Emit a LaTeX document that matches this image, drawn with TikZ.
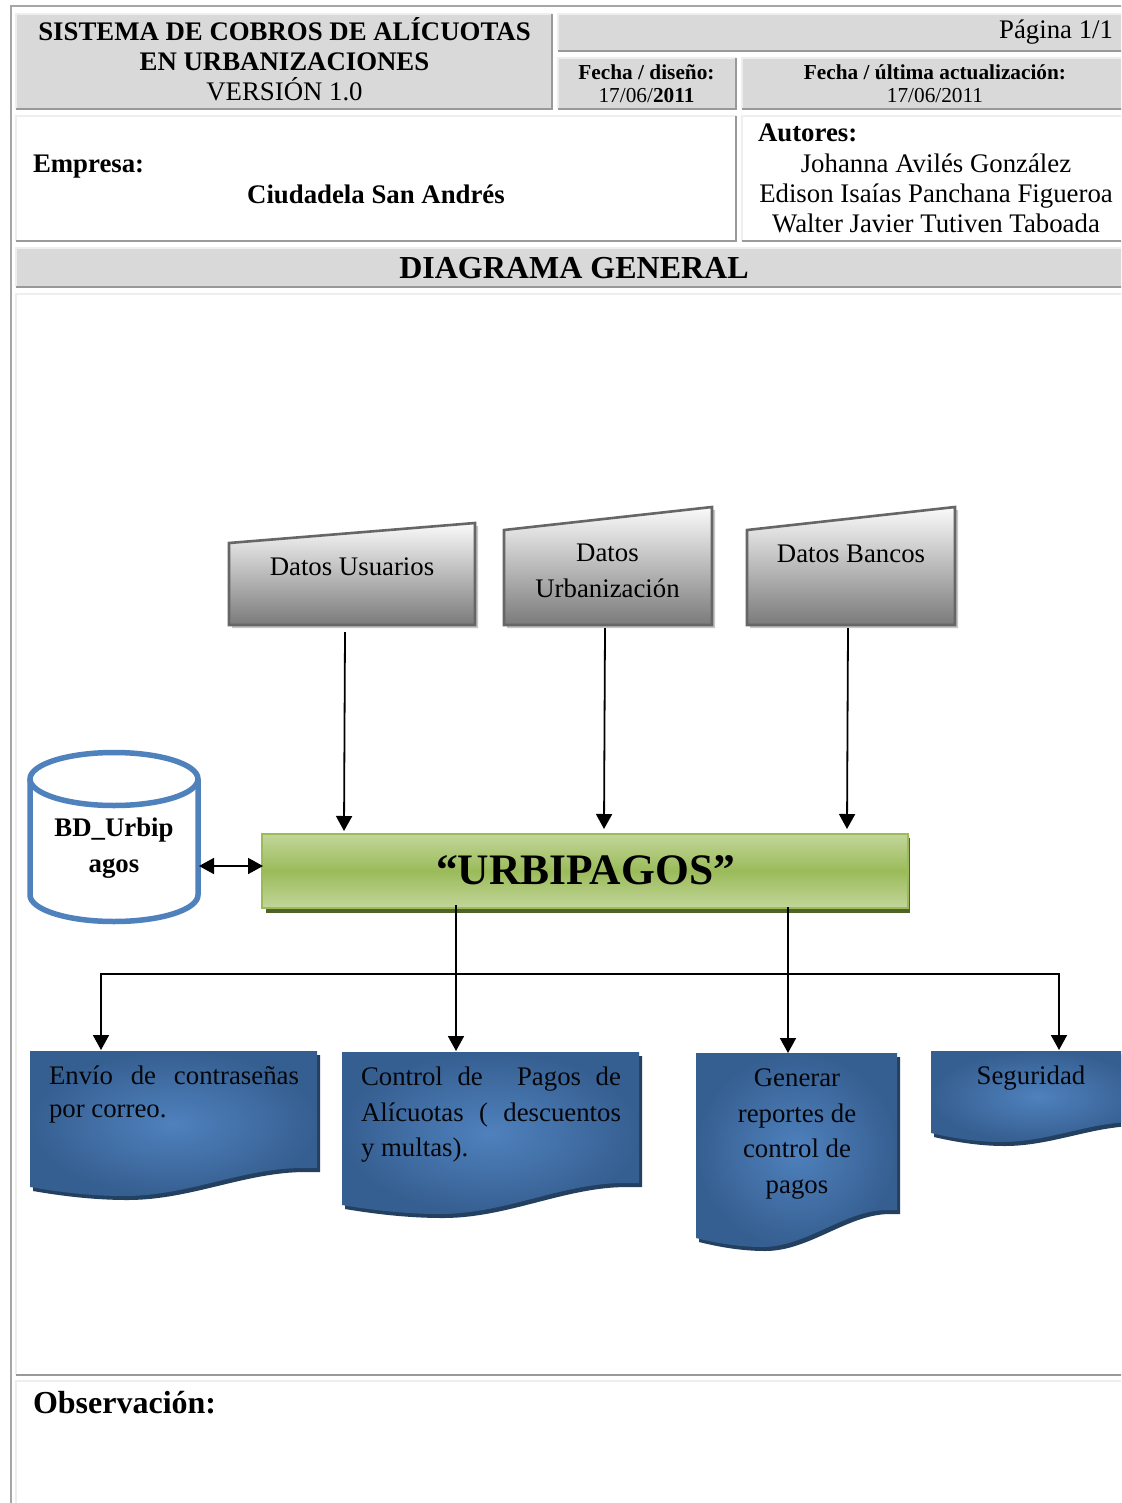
\documentclass[tikz,border=0pt]{standalone}
\usepackage{fontspec}
\setmainfont{Liberation Serif}
\usetikzlibrary{arrows.meta}
\definecolor{cellgray}{HTML}{D9D9D9}
\definecolor{edgelight}{HTML}{EEEEEE}
\definecolor{edgedark}{HTML}{999999}
\definecolor{bdblue}{HTML}{4F81BD}
\definecolor{docedge}{HTML}{365F91}
\definecolor{docshadow}{HTML}{244061}
\definecolor{greenlight}{HTML}{C2D69B}
\definecolor{greenmid}{HTML}{9BBB59}
\definecolor{greenshadow}{HTML}{4F6228}
\tikzset{
  x=1pt,y=-1pt,
  cellnode/.style={draw=none,inner sep=0pt,outer sep=0pt,anchor=north west},
  txt/.style={inner sep=0pt,outer sep=0pt,font=\fontsize{26.8}{30.2}\selectfont},
  boldtxt/.style={txt,font=\fontsize{26.8}{30.2}\selectfont\bfseries},
  smalltxt/.style={inner sep=0pt,outer sep=0pt,font=\fontsize{21.3}{23}\selectfont},
  bigbold/.style={inner sep=0pt,outer sep=0pt,font=\fontsize{32}{36}\selectfont\bfseries},
  doctxt/.style={inner sep=0pt,outer sep=0pt,font=\fontsize{26.8}{35.5}\selectfont,text=black!90!docshadow},
  conn/.style={line width=1.8pt,draw=black},
  arr/.style={conn,-{Triangle[length=15pt,width=16pt]}},
  darr/.style={conn,{Triangle[length=15pt,width=16pt]}-{Triangle[length=15pt,width=16pt]}},
  inputshape/.style={line width=2.6pt,draw=black!60,top color=black!2,middle color=black!20,bottom color=black!52},
  inputshadow/.style={fill=black!22},
  docfill/.style={shading=radial,inner color=bdblue,outer color=docedge},
}
\newcommand{\cellbox}[6]{%
  \pgfmathsetmacro{\cellw}{#4-#2}\pgfmathsetmacro{\cellh}{#5-#3}%
  \node[cellnode,fill=#6,minimum width=\cellw pt,minimum height=\cellh pt] (#1) at (#2,#3) {};
  \draw[edgelight,line width=2pt] (#1.south west)--(#1.north west)--(#1.north east);
  \draw[edgedark,line width=2pt] (#1.north east)--(#1.south east)--(#1.south west);
}
\newcommand{\docshape}[5]{%
  \pgfmathsetmacro{\dwid}{#3-#1}%
  \pgfmathsetmacro{\dpa}{#3-.05*\dwid}\pgfmathsetmacro{\dpb}{#3-.26*\dwid}\pgfmathsetmacro{\dpc}{#1+.55*\dwid}%
  \pgfmathsetmacro{\dpd}{#1+.33*\dwid}\pgfmathsetmacro{\dpe}{#1+.20*\dwid}\pgfmathsetmacro{\dpf}{#1+.08*\dwid}%
  \fill[docshadow,shift={(3,4)}] (#1,#2)--(#3,#2)--(#3,#4)--(\dpa,#4) .. controls (\dpb,#4) and (\dpc,#5+9) .. (\dpd,#5+9)
  .. controls (\dpe,#5+9) and (\dpf,#5+4) .. (#1,#5)--cycle;
  \path[docfill] (#1,#2)--(#3,#2)--(#3,#4)--(\dpa,#4) .. controls (\dpb,#4) and (\dpc,#5+9) .. (\dpd,#5+9)
  .. controls (\dpe,#5+9) and (\dpf,#5+4) .. (#1,#5)--cycle;
}
\begin{document}
\begin{tikzpicture}
\useasboundingbox (0,0) rectangle (1121,1503);
\clip (0,0) rectangle (1121,1503);
\fill[white] (0,0) rectangle (1121,1503);
% outer frame
\draw[black!35,line width=2pt] (11,1510)--(11,6)--(1130,6);
% table cells
\cellbox{title}{16}{14}{552}{109}{cellgray}
\cellbox{page}{558}{14}{1130}{51}{cellgray}
\cellbox{fdis}{558}{58}{736}{109}{cellgray}
\cellbox{fact}{742}{58}{1130}{109}{cellgray}
\cellbox{emp}{16}{116}{736}{241}{white}
\cellbox{aut}{742}{116}{1130}{241}{white}
\cellbox{dg}{16}{248}{1130}{287}{cellgray}
\cellbox{body}{16}{294}{1130}{1375}{white}
\cellbox{obs}{16}{1381}{1130}{1520}{white}
% table text
\node[boldtxt,align=center] (ttitle) at (284.5,59) {SISTEMA DE COBROS DE ALÍCUOTAS\\EN URBANIZACIONES\\[0pt]\normalfont\fontsize{26.8}{30.2}\selectfont VERSIÓN 1.0};
\node[txt,anchor=base east] (tpage) at (1113,39) {Página 1/1};
\node[smalltxt,align=center] (tfdis) at (646.5,84) {\textbf{Fecha / diseño:}\\17/06/\textbf{2011}};
\node[smalltxt,align=center] (tfact) at (935,84) {\textbf{Fecha / última actualización:}\\17/06/2011};
\node[boldtxt,anchor=base west] (tempresa) at (33,173) {Empresa:};
\node[boldtxt,anchor=base] (tciud) at (376,203.5) {Ciudadela San Andrés};
\node[boldtxt,anchor=base west] (tautores) at (758,142) {Autores:};
\node[txt,align=center] (tnames) at (936,193.5) {Johanna Avilés González\\Edison Isaías Panchana Figueroa\\Walter Javier Tutiven Taboada};
\node[bigbold,anchor=base] (tdg) at (574,279) {DIAGRAMA GENERAL};
\node[bigbold,anchor=base west] (tobs) at (33,1413) {Observación:};
% input shapes
\fill[inputshadow,shift={(3,3)}] (229,543)--(475,523)--(475,625)--(229,625)--cycle;
\path[inputshape] (229,543)--(475,523)--(475,625)--(229,625)--cycle;
\fill[inputshadow,shift={(3,3)}] (504,530)--(712,507)--(712,625)--(504,625)--cycle;
\path[inputshape] (504,530)--(712,507)--(712,625)--(504,625)--cycle;
\fill[inputshadow,shift={(3,3)}] (747,530)--(955,507)--(955,625)--(747,625)--cycle;
\path[inputshape] (747,530)--(955,507)--(955,625)--(747,625)--cycle;
\node[txt,anchor=base] (usr) at (352,575) {Datos Usuarios};
\node[inner sep=0pt,outer sep=0pt,font=\fontsize{26.8}{36}\selectfont,align=center] (urb) at (607.5,570.5) {Datos\\Urbanización};
\node[txt,anchor=base] (ban) at (851,562) {Datos Bancos};
% database
\path[bdblue,line width=5.5pt,fill=white,draw] (30,779)--(30,895) arc[start angle=180,end angle=0,x radius=84,y radius=26.5]--(198,779);
\draw[bdblue,line width=5.5pt] (114,779) ellipse[x radius=84,y radius=26.5];
\node[inner sep=0pt,outer sep=0pt,font=\fontsize{26.8}{36}\selectfont\bfseries,align=center] (bd) at (114,848) {BD\_Urbip\\agos};
% main box
\fill[greenshadow] (266,838) rectangle (910,913);
\path[draw=greenmid,line width=2pt,top color=greenlight,bottom color=greenlight,middle color=greenmid] (262,834) rectangle (908,908);
\node[inner sep=0pt,outer sep=0pt,font=\fontsize{43.5}{48}\selectfont\bfseries,anchor=base] (main) at (585.5,884.5) {“URBIPAGOS”};
% documents
\docshape{30}{1051}{317}{1168}{1187}
\docshape{342}{1052}{639}{1183}{1205}
\docshape{696}{1053}{897}{1210}{1238}
\docshape{931}{1051}{1145}{1122}{1133}
\node[doctxt,anchor=north west,align=left] (d1) at (49,1066) {\makebox[250pt][s]{Envío de contraseñas}\\[-3pt]por correo.};
\node[doctxt,anchor=north west,align=left] (d2) at (361,1067) {\makebox[260pt][s]{Control de \hspace{5pt} Pagos de}\\\makebox[260pt][s]{Alícuotas ( descuentos}\\y multas).};
\node[doctxt,align=center] (d3) at (797,1134) {Generar\\reportes de\\control de\\pagos};
\node[doctxt,anchor=base] (d4) at (1031,1084) {Seguridad};
% connector end points
\coordinate (usrout) at (345,632);
\coordinate (urbout) at (605,628);
\coordinate (banout) at (848,628);
\coordinate (mainusr) at (344,831);
\coordinate (mainurb) at (604,829);
\coordinate (mainban) at (847,829);
\coordinate (bdport) at (199,866);
\coordinate (mainport) at (263,866);
\coordinate (mainlow) at (456,905);
\coordinate (mainlowb) at (788,907);
\coordinate (d1in) at (101,1050);
\coordinate (d2in) at (456,1051);
\coordinate (d3in) at (788,1053);
\coordinate (d4in) at (1059,1050);
\coordinate (busl) at (101,974);
\coordinate (busr) at (1059,974);
% connectors
\draw[arr] (usrout)--(mainusr);
\draw[arr] (urbout)--(mainurb);
\draw[arr] (banout)--(mainban);
\draw[darr] (bdport)--(mainport);
\draw[arr] (mainlow)--(d2in);
\draw[arr] (mainlowb)--(d3in);
\draw[arr] (busr)--(busl)--(d1in);
\draw[arr] (busl)--(busr)--(d4in);
\end{tikzpicture}
\end{document}
